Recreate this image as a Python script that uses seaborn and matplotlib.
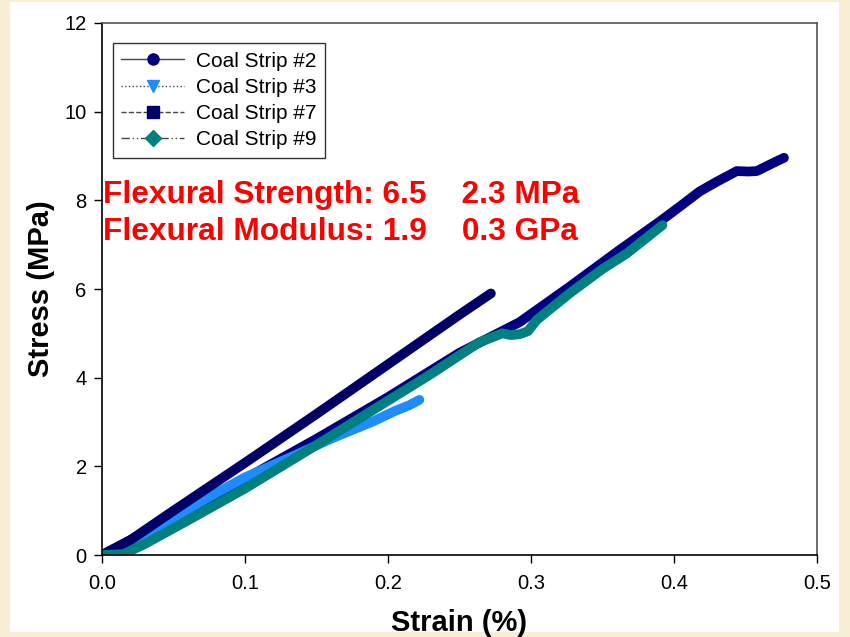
import pandas as pd
import numpy as np
import matplotlib
matplotlib.use("Agg")
import matplotlib.pyplot as plt
from matplotlib.lines import Line2D
from matplotlib.patches import Rectangle
import seaborn as sns

# values (strain %, stress MPa)
strain_2 = [0.0, 0.05, 0.10, 0.15, 0.20, 0.25, 0.292, 0.327, 0.362, 0.39, 0.405, 0.418, 0.430, 0.444, 0.452, 0.458, 0.468, 0.477]
stress_2 = [0.0, 0.85, 1.72, 2.62, 3.56, 4.56, 5.25, 6.05, 6.88, 7.52, 7.88, 8.20, 8.42, 8.66, 8.65, 8.66, 8.82, 8.96]

strain_3 = [0.0, 0.02, 0.05, 0.08, 0.10, 0.135, 0.16, 0.19, 0.205, 0.215, 0.222]
stress_3 = [0.0, 0.30, 0.85, 1.40, 1.75, 2.25, 2.62, 3.02, 3.25, 3.38, 3.50]

strain_7 = [0.0, 0.02, 0.05, 0.10, 0.15, 0.20, 0.25, 0.272]
stress_7 = [0.0, 0.34, 1.00, 2.08, 3.18, 4.30, 5.42, 5.90]

strain_9 = [0.0, 0.015, 0.03, 0.06, 0.10, 0.15, 0.20, 0.23, 0.264, 0.280, 0.286, 0.292, 0.298, 0.304, 0.327, 0.35, 0.367, 0.392]
stress_9 = [0.0, 0.02, 0.25, 0.78, 1.50, 2.48, 3.48, 4.08, 4.80, 5.00, 4.96, 4.98, 5.05, 5.30, 5.90, 6.45, 6.80, 7.44]

labels = ["Coal Strip #2", "Coal Strip #3", "Coal Strip #7", "Coal Strip #9"]
colors = ["#000080", "#1E8CFF", "#000066", "#008080"]
markers = ["o", "v", "s", "D"]
styles = ["-", ":", "--", (0, (6, 2, 1, 2, 1, 2))]

xticks = [0.0, 0.1, 0.2, 0.3, 0.4, 0.5]
yticks = [0, 2, 4, 6, 8, 10, 12]

strength_text = "Flexural Strength: 6.5    2.3 MPa"
modulus_text = "Flexural Modulus: 1.9    0.3 GPa"

frames = []
for lab, xs, ys in zip(labels, [strain_2, strain_3, strain_7, strain_9],
                       [stress_2, stress_3, stress_7, stress_9]):
    frames.append(pd.DataFrame({"Strain": xs, "Stress": ys, "Sample": lab}))
df = pd.concat(frames, ignore_index=True)

sns.set_theme(style="white")
plt.rcParams["font.family"] = ["Liberation Sans", "DejaVu Sans"]
plt.rcParams["text.color"] = "black"
plt.rcParams["axes.labelcolor"] = "black"
plt.rcParams["xtick.color"] = "black"
plt.rcParams["ytick.color"] = "black"

fig = plt.figure(figsize=(8.5, 6.37), dpi=100)
fig.patch.set_facecolor("#F8EED6")
fig.patches.append(Rectangle((0.012, 0.008), 0.975, 0.989, transform=fig.transFigure,
                             facecolor="white", edgecolor="none", zorder=-5))
ax = fig.add_axes([0.12, 0.1287, 0.841, 0.8352])
ax.set_facecolor("white")

# draw in original order so teal sits on top of navy
for lab, col in zip(labels, colors):
    sub = df[df["Sample"] == lab]
    sns.lineplot(data=sub, x="Strain", y="Stress", color=col, linewidth=7,
                 sort=False, estimator=None, ax=ax, legend=False,
                 solid_capstyle="round", solid_joinstyle="round")

ax.set_xlim(0, 0.5)
ax.set_ylim(0, 12)
ax.set_xticks(xticks)
ax.set_xticklabels([f"{t:.1f}" for t in xticks])
ax.set_yticks(yticks)
ax.tick_params(axis="both", direction="out", length=6, width=1, color="black",
               labelsize=14.5, bottom=True, left=True)
ax.tick_params(axis="x", pad=8)
ax.tick_params(axis="y", pad=5)
for side in ["left", "bottom"]:
    ax.spines[side].set_color("black")
    ax.spines[side].set_linewidth(1.2)
for side in ["top", "right"]:
    ax.spines[side].set_color("#555555")
    ax.spines[side].set_linewidth(1.2)

ax.set_xlabel("Strain (%)", fontsize=21, fontweight="bold", labelpad=11)
ax.set_ylabel("Stress (MPa)", fontsize=21, fontweight="bold", labelpad=7)

ax.text(0.0005, 8.11, strength_text, color="red", fontsize=22.8, fontweight="bold",
        ha="left", va="center")
ax.text(0.0005, 7.29, modulus_text, color="red", fontsize=22.8, fontweight="bold",
        ha="left", va="center")

handles = []
for col, mk, ls in zip(colors, markers, styles):
    handles.append(Line2D([0], [0], color="#444444", linestyle=ls, linewidth=1,
                          marker=mk, markersize=8, markerfacecolor=col,
                          markeredgecolor=col))
leg = ax.legend(handles, labels, loc="upper left", bbox_to_anchor=(0.0155, 0.962),
                fontsize=15, frameon=True, fancybox=False, edgecolor="black",
                handlelength=3.0, handletextpad=0.6, labelspacing=0.35,
                borderpad=0.4, borderaxespad=0)
leg.get_frame().set_linewidth(1)

fig.savefig("out.png", dpi=100, facecolor=fig.get_facecolor())
